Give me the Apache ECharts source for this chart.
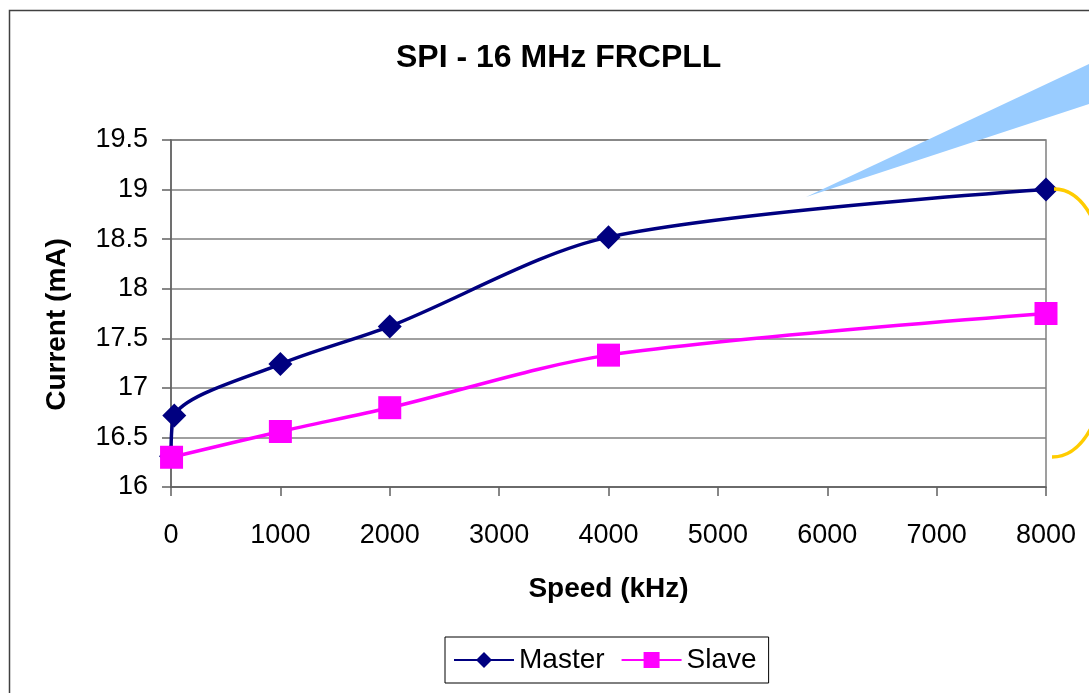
<!DOCTYPE html>
<html>
<head>
<meta charset="utf-8">
<script src="https://cdn.jsdelivr.net/npm/echarts@6/dist/echarts.min.js"></script>
<style>
  html, body { margin: 0; padding: 0; background: #fff; }
  #chart { width: 1089px; height: 693px; }
</style>
</head>
<body>
<div id="chart"></div>
<script>
  // 数据
  const xTicks = [0, 1000, 2000, 3000, 4000, 5000, 6000, 7000, 8000]
  const masterSpeed = [0, 30, 1000, 2000, 4000, 8000]
  const masterCurrent = [16.31, 16.72, 17.24, 17.62, 18.52, 19.0]
  const slaveSpeed = [5, 1000, 2000, 4000, 8000]
  const slaveCurrent = [16.3, 16.56, 16.8, 17.33, 17.75]

  const pairs = (xs, ys) => xs.map((x, i) => [x, ys[i]])
  const font = 'Liberation Sans, Arial, sans-serif'

  let myChart = echarts.init(document.getElementById('chart'))
  myChart.setOption({
    animation: false,
    title: {
      text: 'SPI - 16 MHz FRCPLL',
      left: 391,
      top: 37,
      textStyle: { fontFamily: font, fontSize: 32, fontWeight: 'bold', color: '#000' }
    },
    legend: {
      left: 445,
      top: 637,
      padding: [9, 12, 9, 8],
      itemWidth: 60,
      itemHeight: 20,
      itemGap: 16,
      borderColor: '#000',
      borderWidth: 1,
      textStyle: { fontFamily: font, fontSize: 28, color: '#000' },
      data: ['Master', 'Slave']
    },
    grid: {
      left: 171,
      right: 43,
      top: 140,
      bottom: 206,
      show: true,
      borderColor: '#808080',
      borderWidth: 1.5
    },
    xAxis: {
      type: 'value',
      min: 0,
      max: 8000,
      interval: 1000,
      name: 'Speed (kHz)',
      nameLocation: 'middle',
      nameGap: 88,
      nameTextStyle: { fontFamily: font, fontSize: 28, fontWeight: 'bold', color: '#000' },
      axisLine: { show: true, lineStyle: { color: '#606060', width: 1.5 } },
      axisTick: { show: true, length: 9, lineStyle: { color: '#606060', width: 1.5 } },
      axisLabel: {
        margin: 35,
        fontFamily: font, fontSize: 27, color: '#000',
        formatter: v => xTicks.indexOf(v) >= 0 ? String(v) : ''
      },
      splitLine: { show: false }
    },
    yAxis: {
      type: 'value',
      min: 16,
      max: 19.5,
      interval: 0.5,
      name: 'Current (mA)',
      nameLocation: 'middle',
      nameGap: 100,
      nameTextStyle: {
        fontFamily: font, fontSize: 28, fontWeight: 'bold', color: '#000',
        padding: [0, 22, 0, 0]
      },
      axisLine: { show: true, lineStyle: { color: '#606060', width: 1.5 } },
      axisTick: { show: true, length: 9, lineStyle: { color: '#606060', width: 1.5 } },
      axisLabel: { margin: 23, fontFamily: font, fontSize: 27, color: '#000' },
      splitLine: { show: true, lineStyle: { color: '#808080', width: 1.5 } }
    },
    series: [
      {
        name: 'Master',
        type: 'line',
        smooth: 0.3,
        data: pairs(masterSpeed, masterCurrent),
        symbol: 'diamond',
        symbolSize: [24, 24],
        lineStyle: { color: '#000080', width: 3.5 },
        itemStyle: { color: '#000080' }
      },
      {
        name: 'Slave',
        type: 'line',
        smooth: 0.3,
        data: pairs(slaveSpeed, slaveCurrent),
        symbol: 'rect',
        symbolSize: 23,
        lineStyle: { color: '#FF00FF', width: 3.5 },
        itemStyle: { color: '#FF00FF' }
      }
    ],
    graphic: [
      // 外框
      {
        type: 'rect',
        shape: { x: 9.5, y: 10.5, width: 1200, height: 800 },
        style: { fill: 'none', stroke: '#404040', lineWidth: 1.5 },
        silent: true
      },
      // 蓝色标注
      {
        type: 'polygon',
        shape: { points: [[806, 197], [1089, 64], [1089, 104]] },
        style: { fill: '#99CCFF' },
        silent: true,
        z: 10
      },
      // 黄色括弧
      {
        type: 'bezierCurve',
        shape: { x1: 1054, y1: 189, cpx1: 1132, cpy1: 189, cpx2: 1132, cpy2: 457, x2: 1052, y2: 457 },
        style: { fill: 'none', stroke: '#FFCC00', lineWidth: 3.5 },
        silent: true,
        z: 10
      }
    ]
  })
</script>
</body>
</html>
